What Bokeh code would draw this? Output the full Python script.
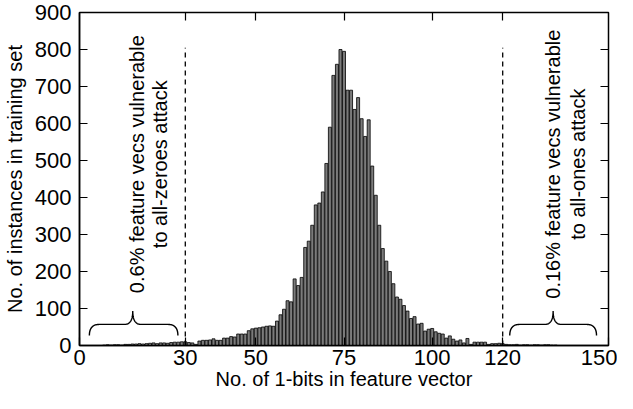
import numpy as np
from bokeh.plotting import figure
from bokeh.models import (ColumnDataSource, FixedTicker, LinearAxis, Range1d,
                          CustomJSTickFormatter)
from bokeh.core.properties import value
from bokeh.embed import file_html
from bokeh.resources import INLINE

# ---------------- data ----------------
bits = list(range(0, 151))
counts = [
    0, 0, 0, 0, 0, 0, 0, 1, 2, 1,            # 0-9
    2, 2, 1, 3, 3, 4, 4, 5, 4, 5,            # 10-19
    6, 7, 5, 7, 7, 6, 8, 9, 9, 10,           # 20-29
    10, 8, 7, 3, 12, 14, 14, 15, 18, 14,     # 30-39
    14, 20, 20, 24, 23, 31, 31, 31, 40, 45,  # 40-49
    47, 48, 50, 52, 53, 52, 66, 83, 98, 121,           # 50-59
    118, 180, 162, 184, 265, 282, 325, 380, 385, 415,  # 60-69
    492, 590, 730, 760, 800, 795, 690, 690, 638, 670,  # 70-79
    613, 565, 610, 485, 406, 325, 262, 228, 200, 167,  # 80-89
    131, 125, 108, 93, 73, 78, 58, 60, 39, 44,         # 90-99
    46, 37, 33, 31, 20, 26, 17, 12, 15, 7,   # 100-109
    19, 3, 9, 9, 9, 9, 3, 5, 5, 6,           # 110-119
    5, 3, 2, 2, 3, 1, 2, 2, 1, 2,            # 120-129
    2, 1, 2, 2, 1, 1, 0, 0, 0, 0,            # 130-139
    0, 0, 0, 0, 0, 0, 0, 0, 0, 0,            # 140-149
    0,                                       # 150
]
assert len(counts) == len(bits)

x_ticks = [0, 30, 50, 75, 100, 120, 150]
y_ticks = [0, 100, 200, 300, 400, 500, 600, 700, 800, 900]
thresholds = [30, 120]
threshold_top = 805

note_zero = ["0.6% feature vecs vulnerable", "to all-zeroes attack"]
note_one = ["0.16% feature vecs vulnerable", "to all-ones attack"]

FONT = "Liberation Sans"

# ---------------- figure ----------------
p = figure(width=617, height=393, x_range=Range1d(0, 150), y_range=Range1d(0, 900),
           output_backend="svg", toolbar_location=None,
           min_border_left=75, min_border_right=9, min_border_top=12,
           min_border_bottom=48)
p.xgrid.visible = False
p.ygrid.visible = False
p.outline_line_color = "black"
p.outline_line_width = 1.5
p.background_fill_color = "white"
p.border_fill_color = "white"

src = ColumnDataSource(dict(bits=bits, counts=counts))
p.vbar(x="bits", top="counts", bottom=0, width=0.85, source=src,
       fill_color="#7b7b7b", line_color="black", line_width=0.8)

# dashed threshold lines
p.segment(x0=thresholds, y0=[0, 0], x1=thresholds, y1=[threshold_top] * 2,
          line_color="black", line_width=1.3, line_dash="5 4")

# braces
def brace(x0, x1, xm, y_end, y_h, y_tip, rx_end, rx_tip):
    t = np.linspace(0, 1, 24)

    def qb(a, b, c):
        return (1 - t) ** 2 * a + 2 * (1 - t) * t * b + t ** 2 * c

    xs = np.concatenate([
        qb(x0, x0, x0 + rx_end), qb(xm - rx_tip, xm, xm),
        qb(xm, xm, xm + rx_tip), qb(x1 - rx_end, x1, x1)])
    ys = np.concatenate([
        qb(y_end, y_h, y_h), qb(y_h, y_h, y_tip),
        qb(y_tip, y_h, y_h), qb(y_h, y_h, y_end)])
    return xs, ys

for (a, b, m) in [(2.8, 27.9, 15.1), (122.0, 146.6, 134.3)]:
    bx, by = brace(a, b, m, 27, 57, 93, 2.8, 2.3)
    p.line(bx, by, line_color="black", line_width=1.4)

# rotated notes
p.text(x=[16.3, 22.8], y=[490, 490], text=note_zero, angle=np.pi / 2,
       text_align="center", text_baseline="middle",
       text_font=value(FONT), text_font_size="20px", text_color="black")
p.text(x=[134.3, 141.3], y=[490, 490], text=note_one, angle=np.pi / 2,
       text_align="center", text_baseline="middle",
       text_font=value(FONT), text_font_size="20px", text_color="black")

# ---------------- axes ----------------
for ax in (p.xaxis[0], p.yaxis[0]):
    ax.major_tick_in = 8
    ax.major_tick_out = 0
    ax.minor_tick_in = 0
    ax.minor_tick_out = 0
    ax.axis_line_color = "black"
    ax.axis_line_width = 1.5
    ax.major_tick_line_width = 1.2
    ax.major_label_text_font = FONT
    ax.major_label_text_font_size = "22px"
    ax.major_label_text_color = "black"
    ax.axis_label_text_font = FONT
    ax.axis_label_text_font_size = "20px"
    ax.axis_label_text_font_style = "normal"
    ax.axis_label_text_color = "black"

p.xaxis[0].ticker = FixedTicker(ticks=x_ticks)
p.yaxis[0].ticker = FixedTicker(ticks=y_ticks)
p.xaxis[0].axis_label = "No. of 1-bits in feature vector"
p.yaxis[0].axis_label = "No. of instances in training set"
p.xaxis[0].major_label_standoff = 4
p.xaxis[0].axis_label_standoff = 0
p.yaxis[0].major_label_standoff = 8
p.yaxis[0].axis_label_standoff = 6

blank = CustomJSTickFormatter(code="return ''")
top_ax = LinearAxis(ticker=FixedTicker(ticks=x_ticks[1:-1]), formatter=blank)
right_ax = LinearAxis(ticker=FixedTicker(ticks=y_ticks[1:-1]), formatter=blank)
for ax in (top_ax, right_ax):
    ax.major_tick_in = 8
    ax.major_tick_out = 0
    ax.minor_tick_in = 0
    ax.minor_tick_out = 0
    ax.major_label_standoff = 0
    ax.axis_line_color = None
    ax.major_tick_line_width = 1.2
    ax.major_label_text_font_size = "1px"
p.add_layout(top_ax, "above")
p.add_layout(right_ax, "right")

open("out.html", "w").write(file_html(p, INLINE))
